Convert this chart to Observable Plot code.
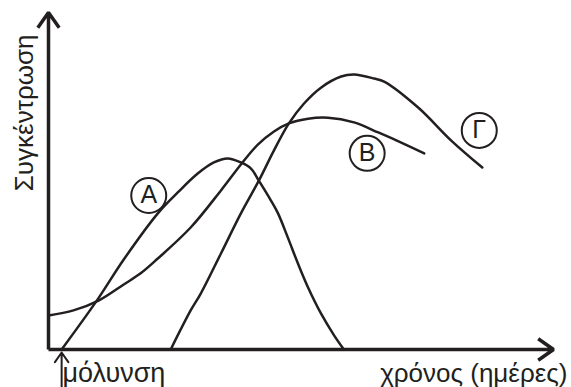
<!DOCTYPE html>
<html>
<head>
<meta charset="utf-8">
<script src="https://cdn.jsdelivr.net/npm/d3@7"></script>
<script src="https://cdn.jsdelivr.net/npm/@observablehq/plot@0.6"></script>
<style>
  html, body { margin: 0; padding: 0; background: #fff; }
  #chart svg { display: block; }
</style>
</head>
<body>
<div id="chart"></div>
<script>
// Scales (time in days, concentration in relative units)
const xDomain = [0, 20];
const yDomain = [0, 100];

// Curve Α : [day, concentration]
const curveA = [
  [0.52, 0], [1.94, 14.8], [2.98, 26.7], [4.33, 40.4], [5.12, 46.6],
  [5.91, 52.2], [6.55, 55.5], [7.10, 56.7], [7.62, 55.5], [8.02, 53.7],
  [8.33, 50.1], [8.81, 44.2], [9.09, 40.4], [9.48, 33.2], [9.88, 25.5],
  [10.28, 18.4], [10.79, 10.7], [11.31, 4.2], [11.67, 0.3]
];
// Curve Β
const curveB = [
  [0, 10.1], [0.99, 11.6], [1.98, 14.5], [2.98, 19.3], [3.65, 22.6],
  [4.33, 27.0], [5.63, 36.2], [6.83, 47.2], [7.62, 54.9], [8.29, 60.8],
  [8.93, 64.7], [9.52, 67.1], [10.28, 68.5], [11.07, 68.8], [12.10, 67.4],
  [13.06, 64.4], [13.97, 61.4], [14.88, 58.2]
];
// Curve Γ
const curveG = [
  [4.84, 0], [5.63, 11.6], [6.03, 16.6], [6.83, 28.5], [7.62, 40.4], [8.33, 50.1],
  [8.93, 59.1], [9.52, 67.1], [10.12, 73.0], [10.79, 77.7], [11.59, 81.0],
  [12.10, 81.6], [12.90, 80.4], [13.29, 79.5], [14.64, 71.8], [15.95, 62.0],
  [17.18, 54.0]
];

// Circled curve labels
const labelNames = ["Α", "Β", "Γ"];
const labelX = [3.97, 12.62, 17.06];
const labelY = [45.7, 58.2, 65.0];

// Infection marker (day of infection)
const infectionDay = [0.52];
const infectionArrowY = [-11.3, -0.9];

// Texts
const yTitle = "Συγκέντρωση";
const xTitle = "χρόνος (ημέρες)";
const infectionText = "μόλυνση";

const ink = "#231f20";
const font = "'Liberation Sans', Arial, sans-serif";

const labels = labelNames.map((t, i) => ({t, x: labelX[i], y: labelY[i]}));
const axes = [
  {x1: xDomain[0], y1: yDomain[0], x2: xDomain[1], y2: yDomain[0]},
  {x1: xDomain[0], y1: yDomain[0], x2: xDomain[0], y2: yDomain[1]}
];

const chart = Plot.plot({
  width: 571,
  height: 387,
  marginLeft: 48,
  marginRight: 18,
  marginTop: 12,
  marginBottom: 38,
  x: {domain: xDomain, axis: null},
  y: {domain: yDomain, axis: null},
  style: {background: "#fff", fontFamily: font, color: ink},
  marks: [
    Plot.line(curveA, {x: d => d[0], y: d => d[1], curve: "catmull-rom", stroke: ink, strokeWidth: 2.5}),
    Plot.line(curveB, {x: d => d[0], y: d => d[1], curve: "catmull-rom", stroke: ink, strokeWidth: 2.5}),
    Plot.line(curveG, {x: d => d[0], y: d => d[1], curve: "catmull-rom", stroke: ink, strokeWidth: 2.5}),
    Plot.dot(labels, {x: "x", y: "y", r: 17.5, stroke: ink, strokeWidth: 2, fill: "none"}),
    Plot.text(labels, {x: "x", y: "y", text: "t", fontSize: 25, fill: ink, lineAnchor: "middle"}),
    Plot.arrow(axes, {x1: "x1", y1: "y1", x2: "x2", y2: "y2", stroke: ink, strokeWidth: 3.5, headLength: 8, headAngle: 70, strokeLinecap: "butt"}),
    Plot.arrow(infectionDay, {x1: d => d, x2: d => d, y1: () => infectionArrowY[0], y2: () => infectionArrowY[1], stroke: ink, strokeWidth: 2, headLength: 9, headAngle: 70}),
    Plot.text([yTitle], {frameAnchor: "top-left", text: d => d, rotate: -90, textAnchor: "end", lineAnchor: "middle", dx: -24, dy: 22, fontSize: 26, fill: ink}),
    Plot.text([xTitle], {frameAnchor: "bottom-right", text: d => d, textAnchor: "end", lineAnchor: "middle", dx: 14, dy: 24, fontSize: 26, fill: ink}),
    Plot.text([infectionText], {frameAnchor: "bottom-left", text: d => d, textAnchor: "start", lineAnchor: "middle", dx: 14, dy: 24, fontSize: 27, fill: ink})
  ]
});
document.getElementById("chart").appendChild(chart);
</script>
</body>
</html>
